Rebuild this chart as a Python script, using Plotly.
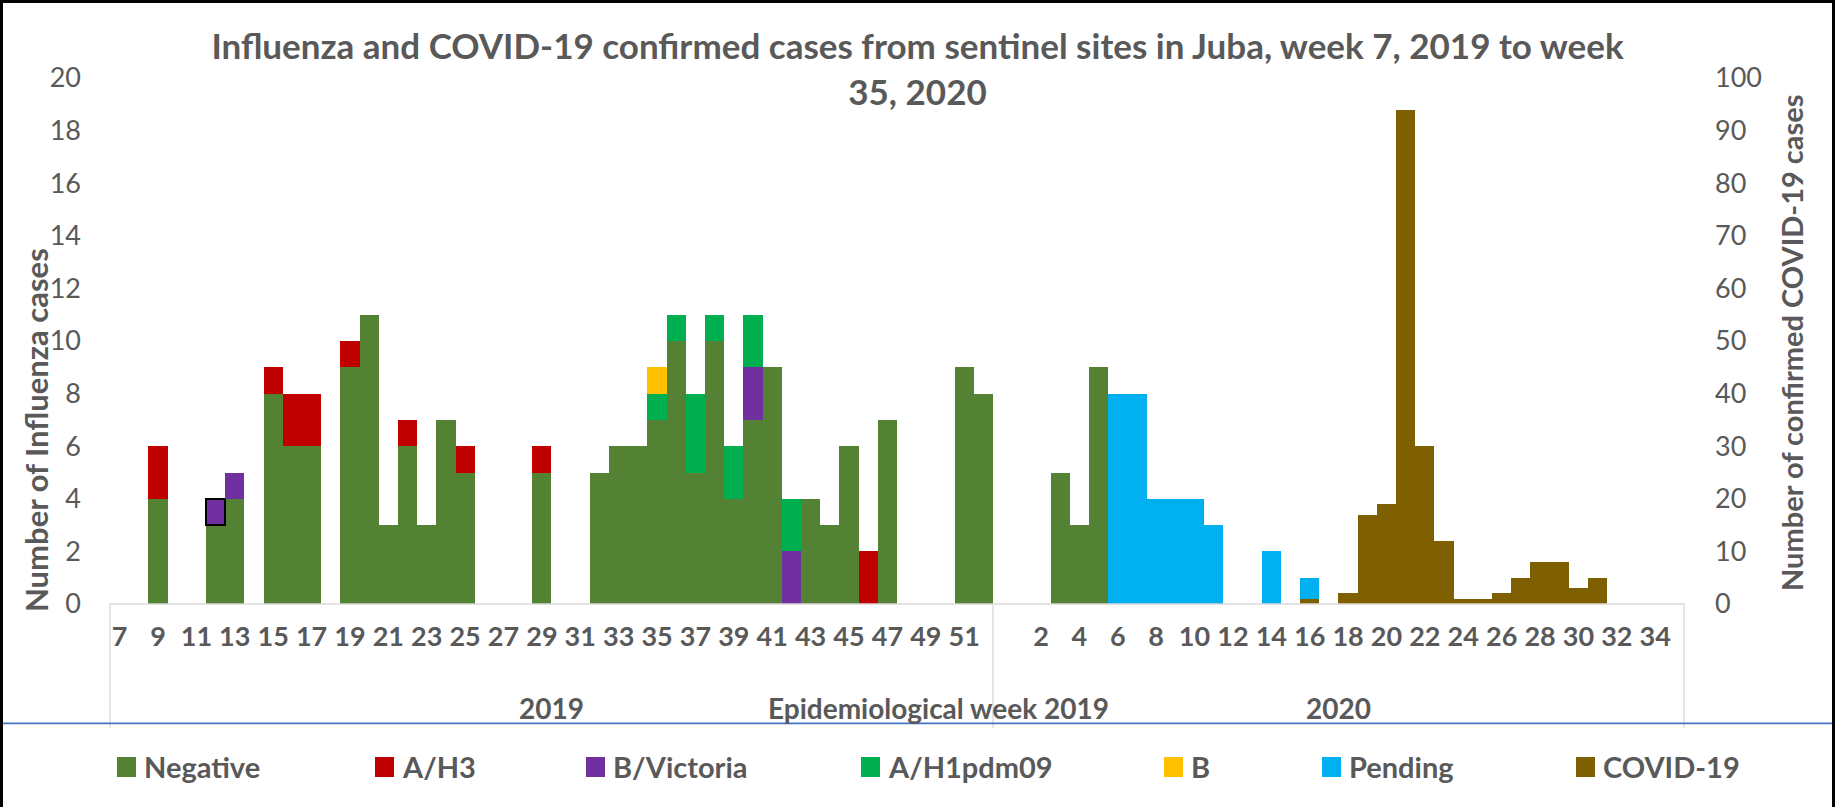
import plotly.graph_objects as go

# ---------------- data ----------------
weeks_2019 = [str(w) for w in range(7, 53)]            # 46 weekly slots in 2019
weeks_2020 = [""] + [str(w) for w in range(1, 36)]     # 36 weekly slots in 2020
year_labels = ["2019", "2020"]

negative_2019 = [0, 0, 4, 0, 0, 3, 4, 0, 8, 6,
                 6, 0, 9, 11, 3, 6, 3, 7, 5, 0,
                 0, 0, 5, 0, 0, 5, 6, 6, 7, 10,
                 5, 10, 4, 7, 9, 0, 4, 3, 6, 0,
                 7, 0, 0, 0, 9, 8]
ah3_2019 = [0, 0, 2, 0, 0, 0, 0, 0, 1, 2,
            2, 0, 1, 0, 0, 1, 0, 0, 1, 0,
            0, 0, 1, 0, 0, 0, 0, 0, 0, 0,
            0, 0, 0, 0, 0, 0, 0, 0, 0, 2,
            0, 0, 0, 0, 0, 0]
bvic_2019 = [0, 0, 0, 0, 0, 1, 1, 0, 0, 0,
             0, 0, 0, 0, 0, 0, 0, 0, 0, 0,
             0, 0, 0, 0, 0, 0, 0, 0, 0, 0,
             0, 0, 0, 2, 0, 2, 0, 0, 0, 0,
             0, 0, 0, 0, 0, 0]
ah1_2019 = [0, 0, 0, 0, 0, 0, 0, 0, 0, 0,
            0, 0, 0, 0, 0, 0, 0, 0, 0, 0,
            0, 0, 0, 0, 0, 0, 0, 0, 1, 1,
            3, 1, 2, 2, 0, 2, 0, 0, 0, 0,
            0, 0, 0, 0, 0, 0]
b_2019 = [0, 0, 0, 0, 0, 0, 0, 0, 0, 0,
          0, 0, 0, 0, 0, 0, 0, 0, 0, 0,
          0, 0, 0, 0, 0, 0, 0, 0, 1, 0,
          0, 0, 0, 0, 0, 0, 0, 0, 0, 0,
          0, 0, 0, 0, 0, 0]
pending_2019 = [0] * 46
covid_2019 = [0] * 46

negative_2020 = [0, 0, 0, 5, 3, 9, 0, 0, 0, 0,
                 0, 0, 0, 0, 0, 0, 0, 0, 0, 0,
                 0, 0, 0, 0, 0, 0, 0, 0, 0, 0,
                 0, 0, 0, 0, 0, 0]
ah3_2020 = [0] * 36
bvic_2020 = [0] * 36
ah1_2020 = [0] * 36
b_2020 = [0] * 36
pending_2020 = [0, 0, 0, 0, 0, 0, 8, 8, 4, 4,
                4, 3, 0, 0, 2, 0, 1, 0, 0, 0,
                0, 0, 0, 0, 0, 0, 0, 0, 0, 0,
                0, 0, 0, 0, 0, 0]
covid_2020 = [0, 0, 0, 0, 0, 0, 0, 0, 0, 0,
              0, 0, 0, 0, 0, 0, 1, 0, 2, 17,
              19, 94, 30, 12, 1, 1, 2, 5, 8, 8,
              3, 5, 0, 0, 0, 0]

series_names = ["Negative", "A/H3", "B/Victoria", "A/H1pdm09", "B", "Pending", "COVID-19"]
series_colors = ["#548235", "#C00000", "#7030A0", "#00B050", "#FFC000", "#00B0F0", "#7F6000"]

# ---------------- layout geometry ----------------
W, H = 1835, 807
L, R, T, B = 110, 151, 78, 203
PW, PH = W - L - R, H - T - B
BASE = T + PH
TXT = "#595959"
FONT = "Lato"


def px2x(px):
    return (px - L) / PW


def py2y(py):
    return (BASE - py) / PH


n19, n20 = len(weeks_2019), len(weeks_2020)
xs = list(range(n19 + n20))
cat_labels = weeks_2019 + weeks_2020

all_series = [
    negative_2019 + negative_2020,
    ah3_2019 + ah3_2020,
    bvic_2019 + bvic_2020,
    ah1_2019 + ah1_2020,
    b_2019 + b_2020,
    pending_2019 + pending_2020,
    covid_2019 + covid_2020,
]

fig = go.Figure()
for i, (name, vals, col) in enumerate(zip(series_names, all_series, series_colors)):
    yv = [v if v else None for v in vals]
    lw = [0] * len(xs)
    lc = [col] * len(xs)
    if name == "B/Victoria":
        k = weeks_2019.index("12")
        lw[k] = 2.5
        lc[k] = "#000000"
    fig.add_trace(go.Bar(
        x=xs, y=yv, name=name,
        marker=dict(color=col, line=dict(color=lc, width=lw)),
        yaxis="y2" if name == "COVID-19" else "y",
        showlegend=False,
    ))

tickvals = [i for i in xs if i % 2 == 0]
ticktext = [cat_labels[i] for i in tickvals]

fig.update_layout(
    width=W, height=H,
    margin=dict(l=L, r=R, t=T, b=B, autoexpand=False),
    paper_bgcolor="white", plot_bgcolor="white",
    barmode="stack", bargap=0,
    font=dict(family=FONT, color=TXT),
    title=dict(
        text="Influenza and COVID-19 confirmed cases from sentinel sites in Juba, week 7, 2019 to week<br>35, 2020",
        x=0.5, xanchor="center", xref="container",
        y=1 - 59 / H, yanchor="middle", yref="container",
        font=dict(family=FONT, size=35, color=TXT, weight="bold"),
    ),
    xaxis=dict(
        range=[-0.5, n19 + n20 - 0.5], tickmode="array", tickvals=tickvals, ticktext=ticktext,
        tickfont=dict(family=FONT, size=27, color=TXT, weight="bold"),
        showgrid=False, zeroline=False, showline=False, ticks="",
        ticklabelstandoff=14,
    ),
    yaxis=dict(
        range=[0, 20], dtick=2, showgrid=False, zeroline=False, showline=False,
        tickfont=dict(family=FONT, size=27, color=TXT), ticks="",
        ticklabelstandoff=28,
    ),
    yaxis2=dict(
        range=[0, 100], dtick=10, overlaying="y", side="right",
        showgrid=False, zeroline=False, showline=False,
        tickfont=dict(family=FONT, size=27, color=TXT), ticks="",
        ticklabelstandoff=30,
    ),
)

shapes = []
grey = "#D9D9D9"
# category box
shapes.append(dict(type="line", xref="paper", yref="paper", x0=0, x1=1, y0=0, y1=0,
                   line=dict(color=grey, width=1.3)))
for xp in [L, L + n19 * PW / (n19 + n20), L + PW]:
    shapes.append(dict(type="line", xref="paper", yref="paper", x0=px2x(xp), x1=px2x(xp),
                       y0=0, y1=py2y(728), line=dict(color=grey, width=1.3)))
# blue separator line
shapes.append(dict(type="line", xref="paper", yref="paper", x0=px2x(0), x1=px2x(W),
                   y0=py2y(723.3), y1=py2y(723.3), line=dict(color="#4472C4", width=1.8)))
# dark frame
shapes.append(dict(type="line", xref="paper", yref="paper", x0=px2x(0), x1=px2x(W),
                   y0=py2y(1.5), y1=py2y(1.5), line=dict(color="#000000", width=3)))
shapes.append(dict(type="line", xref="paper", yref="paper", x0=px2x(1.5), x1=px2x(1.5),
                   y0=py2y(0), y1=py2y(H), line=dict(color="#000000", width=3)))
shapes.append(dict(type="line", xref="paper", yref="paper", x0=px2x(W - 1.5), x1=px2x(W - 1.5),
                   y0=py2y(0), y1=py2y(H), line=dict(color="#000000", width=3)))

annotations = []
# legend (drawn manually to follow the original spacing)
leg_sq_x = [117, 375, 586, 861, 1164, 1322, 1576]
for name, col, sx in zip(series_names, series_colors, leg_sq_x):
    shapes.append(dict(type="rect", xref="paper", yref="paper",
                       x0=px2x(sx), x1=px2x(sx + 19), y0=py2y(777), y1=py2y(757),
                       fillcolor=col, line=dict(width=0)))
    annotations.append(dict(text=name, xref="paper", yref="paper", x=px2x(sx + 25), y=py2y(766),
                            xanchor="left", yanchor="middle", showarrow=False,
                            font=dict(family=FONT, size=29, color=TXT, weight="bold")))

# group labels and axis titles
annotations.append(dict(text=year_labels[0], xref="paper", yref="paper", x=px2x(551), y=py2y(708),
                        xanchor="center", yanchor="middle", showarrow=False,
                        font=dict(family=FONT, size=28, color=TXT, weight="bold")))
annotations.append(dict(text=year_labels[1], xref="paper", yref="paper", x=px2x(1338), y=py2y(708),
                        xanchor="center", yanchor="middle", showarrow=False,
                        font=dict(family=FONT, size=28, color=TXT, weight="bold")))
annotations.append(dict(text="Epidemiological week 2019", xref="paper", yref="paper",
                        x=px2x(938), y=py2y(708), xanchor="center", yanchor="middle", showarrow=False,
                        font=dict(family=FONT, size=28, color=TXT, weight="bold")))
annotations.append(dict(text="Number of Influenza cases", xref="paper", yref="paper",
                        x=px2x(36), y=py2y(430), xanchor="center", yanchor="middle", showarrow=False,
                        textangle=-90,
                        font=dict(family=FONT, size=31, color=TXT, weight="bold")))
annotations.append(dict(text="Number of confirmed COVID-19 cases", xref="paper", yref="paper",
                        x=px2x(1792), y=py2y(343), xanchor="center", yanchor="middle", showarrow=False,
                        textangle=-90,
                        font=dict(family=FONT, size=29, color=TXT, weight="bold")))

fig.update_layout(shapes=shapes, annotations=annotations)

fig.write_html("out.html", config={"displayModeBar": False},
               post_script="document.body.style.margin='0';")
